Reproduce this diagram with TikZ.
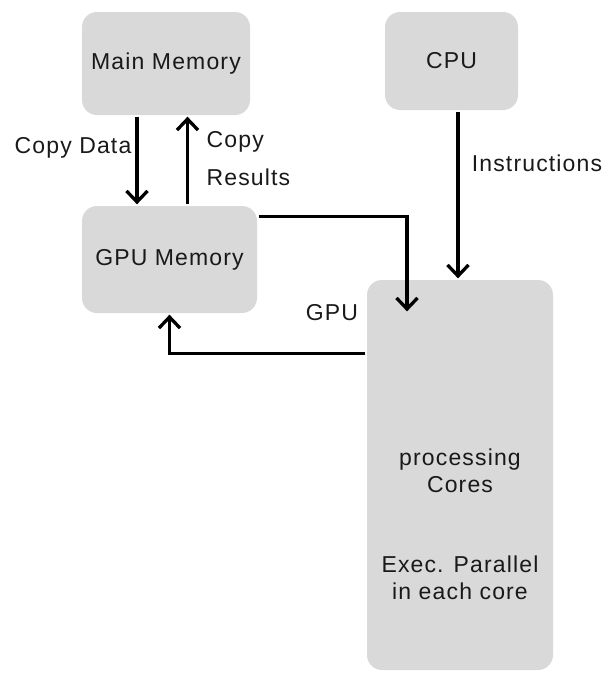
\documentclass[tikz,border=0pt]{standalone}
\usepackage{fontspec}
\newfontfamily\diagfont{Liberation Sans}[LetterSpace=5]
\usetikzlibrary{arrows.meta}
\begin{document}
\begin{tikzpicture}[x=1pt,y=-1pt,line width=3.3pt,
	box/.style={rounded corners=15pt, fill=black!15, draw=none, text=black!90, font=\diagfont\fontsize{23}{27}\selectfont},
	lbl/.style={text=black!90, font=\diagfont\fontsize{23}{27}\selectfont, inner sep=0pt},
	arr/.style={-{Straight Barb[length=11pt,width=21pt]}}]
	\useasboundingbox (0,0) rectangle (609,675);
	\node (MM) at (166, 63.5)	[box, minimum width=168pt, minimum height=103pt]	{Main Memory};
	\node (CPU) at (451.5, 61)	[box, minimum width=133pt, minimum height=98pt]	{CPU};
	\node (GM) at (169.5, 259.5)	[box, minimum width=175pt, minimum height=107pt]	{GPU Memory};
	\node (PC) at (460, 475)	[box, minimum width=186pt, minimum height=390pt]	{};
	\node (PCtxt) at (460, 471)	[lbl, align=center]	{processing\\Cores};
	\node (PCexec) at (460, 578)	[lbl, align=center]	{Exec. Parallel\\in each core};
	\node (lblData) at (73, 148)	[lbl]	{Copy Data};
	\node (lblRes) at (205, 159)	[lbl, anchor=west, align=left]	{Copy\\[11pt]Results};
	\node (lblIns) at (537, 163)	[lbl]	{Instructions};
	\node (lblGPU) at (332, 313)	[lbl]	{GPU};
	\draw[arr] ([xshift=-29pt]MM.south) -- ([xshift=-29pt]MM.south |- GM.north);
	\draw[arr] ([xshift=18pt]GM.north) -- ([xshift=18pt]GM.north |- MM.south);
	\draw[arr] ([xshift=-2pt]PC.north |- CPU.south) -- ([xshift=-2pt]PC.north);
	\draw[arr] (GM.north east) ++(0,12) -| ([xshift=-53pt,yshift=-33pt]PC.north);
	\draw[arr] (PC.north west) ++(0,75) -| (GM.south);
\end{tikzpicture}
\end{document}
